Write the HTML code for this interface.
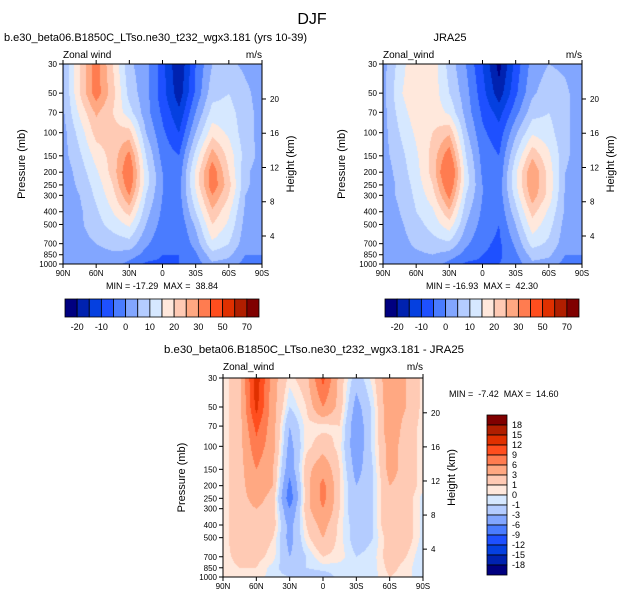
<!DOCTYPE html>
<html><head><meta charset="utf-8"><style>
body{margin:0;background:#fff;}
#wrap{position:relative;width:625px;height:600px;overflow:hidden;font-family:"Liberation Sans",Arial,sans-serif;}
canvas{position:absolute;}
svg{position:absolute;left:0;top:0;}
text{white-space:pre;}
</style></head><body>
<div id="wrap">
<canvas id="c1"></canvas>
<canvas id="c2"></canvas>
<canvas id="c3"></canvas>
<svg id="s" width="625" height="600"></svg>
</div>
<script>
const lats = ["90N","75N","60N","45N","30N","15N","0","15S","30S","45S","60S","75S","90S"];
const pLevels = [30,50,70,100,150,200,250,300,400,500,700,850,1000];
const xTickLabels = ["90N","60N","30N","0","30S","60S","90S"];
const kmTicks = [4,8,12,16,20];
const topLevels = [-20,-15,-10,-5,0,5,10,15,20,25,30,40,50,60,70];
const topLabels = [-20,-10,0,10,20,30,50,70];
const diffLevels = [-18,-15,-12,-9,-6,-3,-1,0,1,3,6,9,12,15,18];
const colors = ["#000080","#0022b0","#0540e0","#1e50ff","#4a7cff","#82a6ff","#b4ccff","#d6e8ff","#ffe8dc","#ffcab4","#ffa882","#ff7c50","#ff4e1e","#e03000","#b01e00","#800000"];
const model = [
[4,20,33,20,6,2,-8,-20,-5,5,6,4,3],
[4,20,33,22,8,2,-8,-18,-4,8,10,6,3],
[4,16,26,20,12,2,-6,-14,0,12,12,7,3],
[3,12,22,22,22,5,-4,-10,5,18,14,7,3],
[3,9,17,22,32,10,-2,-5,12,28,18,8,3],
[2,7,14,22,36,12,0,-3,16,34,20,6,2],
[2,6,12,20,34,12,0,-2,16,34,22,6,2],
[2,5,11,18,30,10,0,-2,14,30,20,5,2],
[2,4,9,15,22,7,-1,-3,10,24,16,4,2],
[1,4,8,12,16,5,-2,-4,6,20,14,3,1],
[1,3,5,7,8,1,-4,-5,2,14,10,2,1],
[0,2,3,4,3,-2,-5,-5,-1,8,6,0,0],
[0,1,2,3,-2,-6,-6,-5,-3,4,3,-2,0]];
const jra = [
[3,12,20,18,8,0,-10,-22,-8,2,5,4,2],
[3,14,20,18,10,2,-8,-18,-6,4,8,6,2],
[3,12,18,18,14,3,-6,-12,-2,8,10,6,2],
[3,10,16,20,24,6,-4,-8,4,14,12,6,2],
[3,8,14,22,34,10,-2,-5,10,24,16,6,2],
[2,7,13,22,40,12,-1,-4,14,30,18,5,2],
[2,6,12,20,36,12,0,-3,14,30,18,5,2],
[2,6,11,18,32,10,0,-3,12,28,18,4,1],
[1,5,10,14,24,7,-1,-4,8,22,14,4,1],
[1,4,8,12,18,5,-2,-5,5,18,12,3,1],
[1,3,6,8,9,1,-4,-6,1,12,9,2,1],
[0,2,4,5,3,-2,-5,-6,-1,7,6,0,0],
[0,1,2,3,-2,-6,-6,-5,-3,4,3,-2,0]];
const diff = [
[0.5,2,14,4,0.5,2,10,2,-2,0.5,5,3,0.5],
[0.5,2,13,4,-1,1,6,2,-4,-0.5,5,3,0.5],
[0.5,2,10,4,-3,0.5,0.5,1,-5,-0.5,5,2,0.5],
[0.5,2,8,4,-4,0.5,2,0.5,-5,-0.5,4,2,0.5],
[0.5,2,6,3,-5,2,5,1,-4,-1,4,2,0.5],
[0.5,2,5,3,-7,2,7,1,-3,-1,3,2,0.5],
[0.5,2,4,2,-8,2,7,1,-3,-1,3,2,-0.5],
[0.5,2,3,2,-6,2,6,1,-3,-1,3,2,-0.5],
[0.5,2,2,2,-4,1,4,0.5,-2,-1,3,2,-0.5],
[0.5,2,2,1,-4,0.5,3,0.5,-2,-1,2,2,-0.5],
[0.5,1.5,1.5,0.5,-3,-1,1,0.5,-1,-0.5,2,1,-1],
[0.5,1,1,-0.5,-2,-1,-0.5,-0.5,-0.5,-0.5,1.5,0.5,-1],
[0.5,1,0.5,-0.5,-1,-2,-2,-0.5,-0.5,-0.5,1,0.5,-1]];

const NS="http://www.w3.org/2000/svg";
const svg=document.getElementById('s');
function mk(tag,attrs,parent){const e=document.createElementNS(NS,tag);for(const k in attrs)e.setAttribute(k,attrs[k]);(parent||svg).appendChild(e);return e;}
function txt(x,y,s,size,anchor,parent,extra){const t=mk('text',Object.assign({x:x,y:y,'font-size':size,'text-anchor':anchor||'start',fill:'#000'},extra||{}),parent);t.textContent=s;return t;}
const L30=Math.log(30),L1000=Math.log(1000);
function colorFor(v,levels){let i=0;while(i<levels.length&&v>=levels[i])i++;return colors[i];}

function panel(cid,x0,y0,w,h,data,levels,name){
  const cv=document.getElementById(cid);cv.width=w;cv.height=h;cv.style.left=x0+'px';cv.style.top=y0+'px';
  const ctx=cv.getContext('2d');
  const lp=pLevels.map(p=>Math.log(p));
  for(let py=0;py<h;py++){
    const l=L30+(py+0.5)/h*(L1000-L30);
    let j=0;while(j<lp.length-2&&l>lp[j+1])j++;
    const fy=Math.min(1,Math.max(0,(l-lp[j])/(lp[j+1]-lp[j])));
    let run=null,start=0;
    for(let px=0;px<=w;px++){
      let c=null;
      if(px<w){
        const fx=(px+0.5)/w*(lats.length-1);
        const i=Math.min(lats.length-2,Math.floor(fx));const tx=fx-i;
        const v=(data[j][i]*(1-tx)+data[j][i+1]*tx)*(1-fy)+(data[j+1][i]*(1-tx)+data[j+1][i+1]*tx)*fy;
        c=colorFor(v,levels);
      }
      if(c!==run){if(run){ctx.fillStyle=run;ctx.fillRect(start,py,px-start,1);}run=c;start=px;}
    }
  }
  const g=mk('g',{});
  
  
  mk('rect',{x:x0,y:y0,width:w,height:h,fill:'none',stroke:'#000','stroke-width':1},g);
  const yOf=p=>y0+(Math.log(p)-L30)/(L1000-L30)*h;
  pLevels.forEach(p=>{const y=yOf(p);mk('line',{x1:x0-4,x2:x0,y1:y,y2:y,stroke:'#000'},g);
    const t=txt(x0-6,y+3,String(p),8,'end',g);});
  xTickLabels.forEach((s,k)=>{const x=x0+k*w/6;mk('line',{x1:x,x2:x,y1:y0+h,y2:y0+h+4,stroke:'#000'},g);mk('line',{x1:x,x2:x,y1:y0,y2:y0-4,stroke:'#000'},g);
    const t=txt(x,y0+h+12,s,8,'middle',g);});
  const H=6.66,P0=1116;
  kmTicks.forEach(z=>{const p=P0*Math.exp(-z/H);const y=yOf(p);mk('line',{x1:x0+w,x2:x0+w+4,y1:y,y2:y,stroke:'#000'},g);
    const t=txt(x0+w+8,y+3,String(z),8,'start',g);});
  const yt=txt(0,0,'Pressure (mb)',11,'middle',g,{transform:`translate(${x0-38},${y0+h/2}) rotate(-90)`});
  
  const rt=txt(0,0,'Height (km)',11,'middle',g,{transform:`translate(${x0+w+32},${y0+h/2}) rotate(-90)`});
  
}
panel('c1',63,64,199,200,model,topLevels,'model');
panel('c2',383,64,199,200,jra,topLevels,'jra25');
panel('c3',223,378,200,199,diff,diffLevels,'difference');

function hbar(x0,y0,w,h,name){
  const g=mk('g',{});
  const bw=w/colors.length;
  colors.forEach((c,i)=>mk('rect',{x:x0+i*bw,y:y0,width:bw,height:h,fill:c,stroke:'#000','stroke-width':0.8},g));
  topLabels.forEach(v=>{const k=topLevels.indexOf(v)+1;const t=txt(x0+k*bw,y0+h+13,String(v),9,'middle',g);});
}
hbar(65,299,194,18,'model-colorbar');
hbar(385,299,194,18,'jra25-colorbar');
(function(){
  const g=mk('g',{});
  const x0=487,y0=415,w=20,bh=10,n=colors.length;
  for(let i=0;i<n;i++)mk('rect',{x:x0,y:y0+i*bh,width:w,height:bh,fill:colors[n-1-i],stroke:'#000','stroke-width':0.8},g);
  diffLevels.slice().reverse().forEach((v,k)=>{const t=txt(x0+w+5,y0+(k+1)*bh+3,String(v),9,'start',g);});
})();

function label(x,y,s,size,anchor,name,extra){const t=txt(x,y,s,size,anchor,svg,extra);return t;}
label(312,24,'DJF',16,'middle','figure-title');
label(4,41,'b.e30_beta06.B1850C_LTso.ne30_t232_wgx3.181 (yrs 10-39)',11,'start','model-panel-title',{textLength:303,lengthAdjust:'spacingAndGlyphs'});
label(450,41,'JRA25',11,'middle','jra25-panel-title');
label(63,58,'Zonal wind',10,'start','model-variable-label');
label(262,58,'m/s',10,'end','model-units-label');
label(383,58,'Zonal_wind',10,'start','jra25-variable-label');
label(582,58,'m/s',10,'end','jra25-units-label');
label(162,289,'MIN = -17.29  MAX =  38.84',9,'middle','model-min-max');
label(482,289,'MIN = -16.93  MAX =  42.30',9,'middle','jra25-min-max');
label(314,353,'b.e30_beta06.B1850C_LTso.ne30_t232_wgx3.181 - JRA25',11,'middle','difference-panel-title',{textLength:300,lengthAdjust:'spacingAndGlyphs'});
label(223,370,'Zonal_wind',10,'start','difference-variable-label');
label(423,370,'m/s',10,'end','difference-units-label');
label(449,397,'MIN =  -7.42  MAX =  14.60',9,'start','difference-min-max');
</script>
</body></html>
